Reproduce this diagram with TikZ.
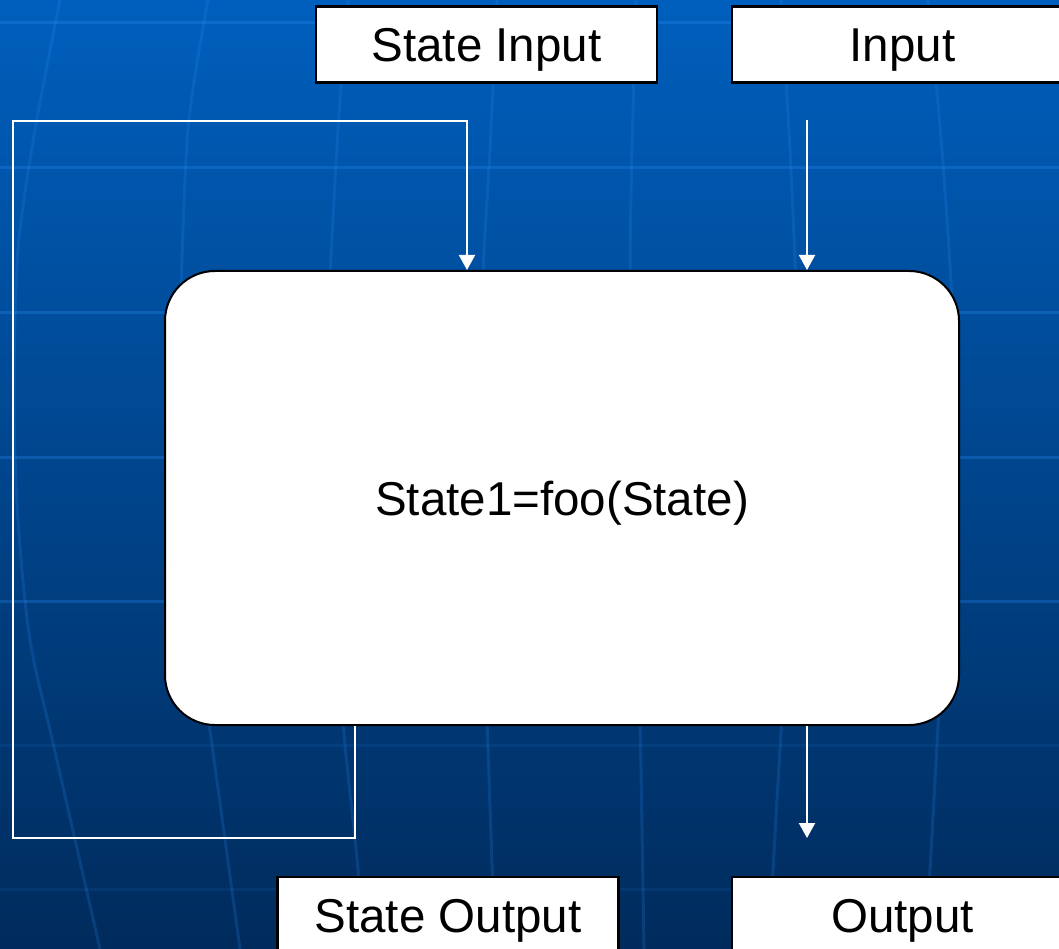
\documentclass[tikz,border=0pt]{standalone}
\usepackage{fontspec}
\setmainfont{Liberation Sans}
\usetikzlibrary{arrows.meta}
\definecolor{bgtop}{HTML}{005FBD}
\definecolor{bgmid}{HTML}{004E9E}
\definecolor{bgbot}{HTML}{002B5C}
\definecolor{gridc}{HTML}{2A8AF0}
\begin{document}
\begin{tikzpicture}[x=1pt,y=-1pt,
  font=\fontsize{47.5}{57}\selectfont,
  box/.style={draw=black, line width=2.5pt, fill=white, minimum width=341pt,
    minimum height=76pt, inner sep=0pt, text height=35pt, text depth=0pt},
  proc/.style={draw=black, line width=2pt, fill=white, rounded corners=50pt,
    minimum width=794pt, minimum height=454pt, inner sep=0pt,
    text height=35pt, text depth=0pt},
  link/.style={draw=white, line width=2pt, -{Triangle[width=16pt,length=15pt]}},
  hgrid/.style={draw=gridc, opacity=0.3, line width=3pt},
  hgridlow/.style={draw=gridc, opacity=0.1, line width=3pt},
  vgrid/.style={draw=gridc, opacity=0.2, line width=3pt}]
\useasboundingbox (0,0) rectangle (1059,949);
\begin{scope}
\clip (0,0) rectangle (1059,949);
% background
\shade[top color=bgtop, middle color=bgmid, bottom color=bgbot] (0,0) rectangle (1059,949);
% horizontal grid
\foreach \yy in {23,168,312,457,601}
  \draw[hgrid] (0,\yy) -- (1059,\yy);
\foreach \yy in {745,889}
  \draw[hgridlow] (0,\yy) -- (1059,\yy);
% meridian curves
\draw[vgrid] plot[smooth] coordinates {(60,0) (35,130) (18,250) (14,400) (18,520) (30,640) (53,743) (100,949)};
\draw[vgrid] plot[smooth] coordinates {(208,0) (188,130) (180,320) (176,450) (182,560) (197,640) (212,745) (240,949)};
\draw[vgrid] plot[smooth] coordinates {(348,0) (338,130) (328,320) (325,450) (328,560) (337,640) (345,745) (358,870) (362,949)};
\draw[vgrid] plot[smooth] coordinates {(497,0) (490,150) (483,275) (480,450) (483,600) (487,720) (495,949)};
\draw[vgrid] plot[smooth] coordinates {(636,0) (632,150) (630,275) (631,450) (636,600) (640,720) (644,949)};
\draw[vgrid] plot[smooth] coordinates {(781,0) (790,150) (797,320) (797,450) (790,600) (783,700) (773,870) (769,949)};
\draw[vgrid] plot[smooth] coordinates {(928,0) (942,150) (953,320) (955,450) (950,560) (943,640) (930,870) (925,949)};

% nodes
\node[box] (sin) at (486.5,44.5) {State Input};
\node[box] (inp) at (902.5,44.5) {Input};
\node[proc] (main) at (562,498) {State1=foo(State)};
\node[box] (sout) at (448,915) {State Output};
\node[box] (out) at (902.5,915) {Output};

% connectors
\coordinate (inTop) at (807,120);
\coordinate (outEnd) at (807,838);
\coordinate (l1) at (355,838);
\coordinate (l2) at (13,838);
\coordinate (l3) at (13,121);
\coordinate (l4) at (467,121);
\draw[link] (inTop) -- (inTop |- main.north);
\draw[link] (outEnd |- main.south) -- (outEnd);
\draw[link] (l1 |- main.south) -- (l1) -- (l2) -- (l3) -- (l4) -- (l4 |- main.north);
\end{scope}
\end{tikzpicture}
\end{document}
